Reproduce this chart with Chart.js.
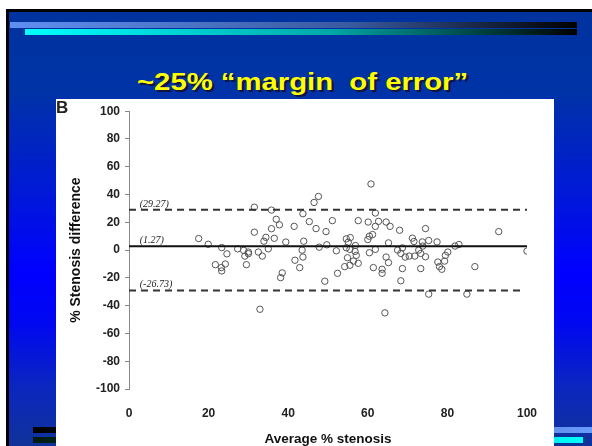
<!DOCTYPE html>
<html>
<head>
<meta charset="utf-8">
<script src="https://cdn.jsdelivr.net/npm/chart.js@4.4.1/dist/chart.umd.min.js"></script>
<style>
  html, body { margin: 0; padding: 0; width: 592px; height: 446px; overflow: hidden; background: #fff; }
  #slide {
    position: absolute; left: 6px; top: 9px; width: 586px; height: 437px;
    border-left: 3px solid #000; border-top: 3px solid #000; box-sizing: border-box;
    background: linear-gradient(to bottom, #00339e 0%, #0033a6 18%, #0018d8 42%, #0000ff 60%, #0008f0 72%, #0a26c0 86%, #10339a 100%);
  }
  .bar { position: absolute; height: 6px; }
  #title {
    position: absolute; left: 137px; top: 68px; margin: 0;
    font: bold 24px "Liberation Sans", Arial, sans-serif; color: #ffff00;
    white-space: pre; text-shadow: 2px 2px 0 #141440;
    transform: scaleX(1.22); transform-origin: 0 0;
  }
  #panel { position: absolute; left: 56px; top: 99px; width: 498px; height: 347px; background: #fff; }
</style>
</head>
<body>
<div id="slide"></div>
<div class="bar" style="left:10px; top:22px; width:567px; background:linear-gradient(to right, #5f8ff2, #3a5aa0 60%, #000);"></div>
<div class="bar" style="left:25px; top:29px; width:552px; background:linear-gradient(to right, #00ffff, #00a8a8 55%, #000);"></div>
<div class="bar" style="left:33px; top:427px; width:559px; background:linear-gradient(to right, #000, #2a3c70 45%, #6a9cff);"></div>
<div class="bar" style="left:33px; top:437px; width:550px; background:linear-gradient(to right, #001a10, #007a7a 50%, #00ffff);"></div>
<div id="title">~25% “margin  of error”</div>
<div id="panel"><canvas id="chart" width="498" height="347"></canvas></div>
<script>
// average % stenosis (x) and % stenosis difference (y)
const avgStenosis = [
  17.5, 19.9, 23.3, 24.6, 21.7, 23.2, 24.2, 23.3, 27.3, 28.8, 30.0, 29.1, 30.0, 29.5,
  32.5, 33.5, 35.0, 31.5, 35.8, 37.0, 37.8, 35.8, 31.5, 34.4, 36.5, 33.9, 32.9, 38.1, 38.5,
  39.4, 41.5, 41.7, 43.7, 46.5, 47.6, 45.3, 47.0, 49.5, 51.1, 57.6, 60.1, 60.8, 43.9, 43.5,
  43.7, 42.9, 47.8, 49.7, 52.1, 54.6, 55.6, 55.1, 54.6, 55.5, 56.9, 56.8, 57.1, 54.9, 56.4,
  57.6, 55.5, 54.2, 52.4, 49.2, 60.4, 60.0, 60.4,
  61.9, 62.7, 64.6, 65.6, 61.9, 61.2, 68.0, 74.5, 71.2, 71.6, 73.7, 75.3, 77.4, 65.2, 61.9,
  64.6, 65.2, 67.5, 68.7, 68.3, 69.4, 70.4, 71.8, 72.8, 73.8, 73.3, 74.5, 80.1, 79.5, 77.6,
  78.0, 78.6, 79.3, 81.9, 61.4, 63.6, 63.6, 68.7, 73.3, 68.3, 75.3, 64.3,
  82.9, 92.9, 100, 86.9, 84.9
]
const diffStenosis = [
  8.3, 4.2, 1.8, -2.7, -10.5, -12.6, -10.0, -15.0, 0.9, -0.2, -1.4, -4.3, -2.6, -10.5,
  -1.4, -4.3, 0.9, 30.9, 28.8, 22.2, 18.2, 15.4, 12.9, 9.2, 8.5, 6.4, -42.6, -19.8, -16.4,
  5.8, 17.1, -7.3, 26.2, 34.3, 38.6, 20.5, 15.5, 13.3, 21.2, 21.2, 20.2, 47.6, 6.4, 0.0,
  -5.0, -12.6, 2.1, 3.8, -0.5, 8.1, 9.0, 5.7, 1.7, 0.5, 3.3, -0.9, -3.8, -5.5, -7.9,
  -9.5, -10.9, -11.9, -16.7, -22.4, -1.9, 7.6, 10.0,
  26.7, 20.7, 20.2, 17.1, 17.1, 11.2, 14.3, 15.5, 8.6, 6.2, 5.9, 6.9, 5.9, 5.2, 0.5,
  -5.0, -9.0, 0.0, 1.6, -2.4, -5.0, -4.3, -4.3, 0.0, 2.9, -2.4, -4.8, -1.4, -3.8, -8.6,
  -11.9, -13.8, -7.9, 2.9, -12.6, -13.8, -16.7, -13.3, -13.3, -22.1, -31.7, -45.2,
  4.0, 13.3, -0.7, -11.9, -31.7
]

// limit lines as drawn in the figure, with their printed labels
const limitLevels = [29.0, 2.7, -29.0]
const limitLabels = ['(29.27)', '(1.27)', '(-26.73)']
const limitEnds = [100, 100, 98.5]

const xTicks = [0, 20, 40, 60, 80, 100]
const yTicks = [-100, -80, -60, -40, -20, 0, 20, 40, 60, 80, 100]

const points = avgStenosis.map((v, i) => ({ x: v, y: diffStenosis[i] }))

const lineSet = (i, dashed) => ({
  type: 'line',
  data: [{ x: 0, y: limitLevels[i] }, { x: limitEnds[i], y: limitLevels[i] }],
  borderColor: dashed ? '#333' : '#111',
  borderWidth: 2,
  borderDash: dashed ? [7, 5] : [],
  pointRadius: 0,
  fill: false
})

// line labels and panel letter
const annotate = {
  id: 'annotate',
  afterDatasetsDraw(chart) {
    const { ctx, scales: { x, y } } = chart
    ctx.save()
    ctx.fillStyle = '#222'
    ctx.font = 'italic 10px "Liberation Serif"'
    limitLabels.forEach((t, i) => {
      ctx.fillText(t, x.getPixelForValue(2.7), y.getPixelForValue(limitLevels[i]) - 3)
    })
    ctx.font = 'bold 17px "Liberation Sans"'
    ctx.fillText('B', 0, 14)
    ctx.restore()
  }
}

new Chart(document.getElementById('chart'), {
  type: 'scatter',
  data: {
    datasets: [
      lineSet(0, true),
      lineSet(1, false),
      lineSet(2, true),
      {
        data: points,
        pointStyle: 'circle',
        pointRadius: 3.2,
        pointBorderWidth: 1,
        borderColor: '#555',
        backgroundColor: 'rgba(0,0,0,0)'
      }
    ]
  },
  options: {
    responsive: false,
    animation: false,
    devicePixelRatio: 1,
    layout: { padding: { top: 10, right: 21, left: 0, bottom: 0 } },
    plugins: { legend: { display: false }, tooltip: { enabled: false } },
    scales: {
      x: {
        type: 'linear', min: 0, max: 100,
        afterFit: s => { s.height = 57 },
        afterBuildTicks: s => { s.ticks = xTicks.map(v => ({ value: v })) },
        grid: { display: false, drawTicks: false },
        border: { display: false },
        ticks: { color: '#222', font: { family: 'Liberation Sans', size: 12, weight: 'bold' }, padding: 17 },
        title: {
          display: true, text: 'Average % stenosis', color: '#111',
          font: { family: 'Liberation Sans', size: 13.5, weight: 'bold', lineHeight: 1 },
          padding: { top: 0, bottom: 0 }
        }
      },
      y: {
        type: 'linear', min: -100, max: 100,
        afterFit: s => { s.width = 73 },
        afterBuildTicks: s => { s.ticks = yTicks.map(v => ({ value: v })) },
        grid: { drawOnChartArea: false, drawTicks: true, tickLength: 4, color: '#888' },
        border: { display: true, color: '#888', width: 1 },
        ticks: { color: '#222', font: { family: 'Liberation Sans', size: 12, weight: 'bold' }, padding: 5 },
        title: {
          display: true, text: '% Stenosis difference', color: '#111',
          font: { family: 'Liberation Sans', size: 14, weight: 'bold' },
          padding: { top: 12, bottom: 0 }
        }
      }
    }
  },
  plugins: [annotate]
})
</script>
</body>
</html>
